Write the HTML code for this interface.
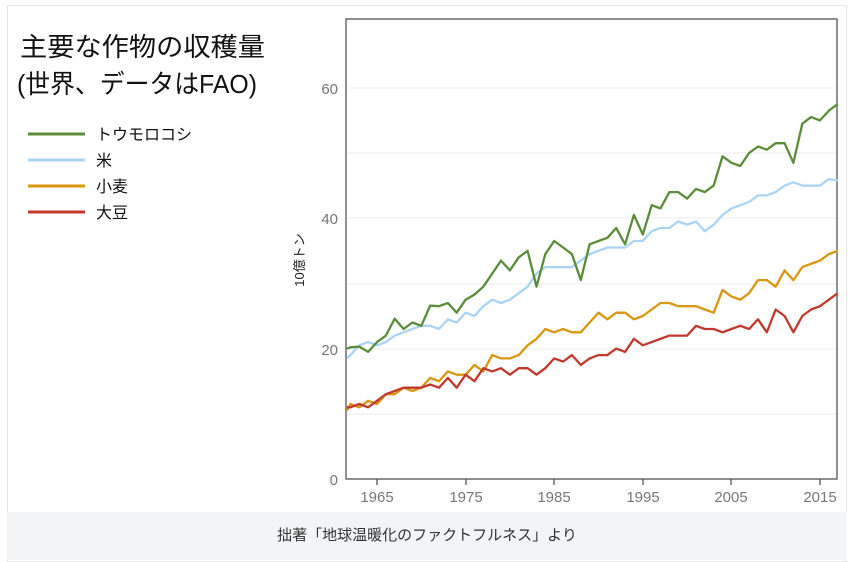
<!DOCTYPE html>
<html><head><meta charset="utf-8"><style>
body{margin:0;background:#fff;width:850px;height:560px;overflow:hidden;font-family:"Liberation Sans","Noto Sans CJK JP",sans-serif;}
.card{position:absolute;left:7px;top:5px;width:838px;height:555px;border:1px solid #e6e6e6;background:#fff;}
.cap{position:absolute;left:7px;top:512px;width:840px;height:48px;background:#f3f4f6;font-size:15px;color:#333;text-align:center;line-height:48px;}
</style></head><body>
<div class="card"></div>
<svg width="850" height="560" style="position:absolute;left:0;top:0" font-family="Liberation Sans,Noto Sans CJK JP,sans-serif">
<text x="20" y="56" font-size="26" fill="#111" textLength="245" lengthAdjust="spacingAndGlyphs">主要な作物の収穫量</text>
<text x="17" y="93" font-size="26" fill="#111" textLength="240" lengthAdjust="spacingAndGlyphs">(世界、データはFAO)</text>
<g stroke-width="3">
<line x1="28" y1="134" x2="85" y2="134" stroke="#5b8c3a"/>
<line x1="28" y1="160" x2="85" y2="160" stroke="#a8d4f5"/>
<line x1="28" y1="186" x2="85" y2="186" stroke="#d9960f"/>
<line x1="28" y1="212" x2="85" y2="212" stroke="#c0392b"/>
</g>
<g font-size="16" fill="#111">
<text x="96" y="140">トウモロコシ</text><text x="96" y="166">米</text><text x="96" y="192">小麦</text><text x="96" y="218">大豆</text>
</g>
<g stroke="#ececec" stroke-width="1">
<line x1="347" x2="837" y1="88" y2="88"/><line x1="347" x2="837" y1="153" y2="153"/>
<line x1="347" x2="837" y1="218" y2="218"/><line x1="347" x2="837" y1="284" y2="284"/>
<line x1="347" x2="837" y1="349" y2="349"/><line x1="347" x2="837" y1="414" y2="414"/>
</g>
<rect x="346" y="19" width="491" height="460" fill="none" stroke="#555" stroke-width="1.3"/>
<g font-size="15" fill="#777" text-anchor="end">
<text x="338" y="94">60</text><text x="338" y="224">40</text><text x="338" y="355">20</text><text x="338" y="485">0</text>
</g>
<g stroke="#555" stroke-width="1.3" id="ticks"></g>
<g font-size="15" fill="#777" text-anchor="middle">
<text x="377" y="502">1965</text><text x="466" y="502">1975</text><text x="554" y="502">1985</text><text x="643" y="502">1995</text><text x="731" y="502">2005</text><text x="820" y="502">2015</text>
</g>
<text transform="translate(304,260) rotate(-90)" font-size="13" fill="#222" text-anchor="middle">10億トン</text>
<g id="lines" fill="none" stroke-width="2.3" stroke-linejoin="round"></g>
</svg>
<div class="cap">拙著「地球温暖化のファクトフルネス」より</div>
<script>
var D={
"#a8d4f5":[18.5,19,20.5,21,20.5,21,22,22.5,23,23.5,23.5,23,24.5,24,25.5,25,26.5,27.5,27,27.5,28.5,29.5,31.5,32.5,32.5,32.5,32.5,33.5,34.5,35,35.5,35.5,35.5,36.5,36.5,38,38.5,38.5,39.5,39,39.5,38,39,40.5,41.5,42,42.5,43.5,43.5,44,45,45.5,45,45,45,46,45.8],
"#5b8c3a":[20,20.2,20.3,19.5,21,22,24.6,23,24,23.5,26.6,26.5,27,25.5,27.5,28.3,29.5,31.5,33.5,32,34,35,29.5,34.5,36.5,35.5,34.5,30.5,36,36.5,37,38.5,36,40.5,37.5,42,41.5,44,44,43,44.5,44,45,49.5,48.5,48,50,51,50.5,51.5,51.5,48.5,54.5,55.5,55,56.5,57.5],
"#d9960f":[10.5,11.5,11,12,11.5,13,13,14,13.5,14,15.5,15,16.5,16,16,17.5,16.5,19,18.5,18.5,19,20.5,21.5,23,22.5,23,22.5,22.5,24,25.5,24.5,25.5,25.5,24.5,25,26,27,27,26.5,26.5,26.5,26,25.5,29,28,27.5,28.5,30.5,30.5,29.5,32,30.5,32.5,33,33.5,34.5,35],
"#c0392b":[11,11,11.5,11,12,13,13.5,14,14,14,14.5,14,15.5,14,16,15,17,16.5,17,16,17,17,16,17,18.5,18,19,17.5,18.5,19,19,20,19.5,21.5,20.5,21,21.5,22,22,22,23.5,23,23,22.5,23,23.5,23,24.5,22.5,26,25,22.5,25,26,26.5,27.5,28.5]};
var g=document.getElementById("lines"),s="";
for(var c in D){var p=D[c].map(function(v,i){var x=377+(1961+i-1965)*8.86;if(x<347)x=347;return x.toFixed(1)+","+(479-v*6.52).toFixed(1)}).join(" ");
s+='<polyline stroke="'+c+'" points="'+p+'"/>';}
g.innerHTML=s;
var t="";[377,466,554,643,731,820].forEach(function(x){t+='<line x1="'+x+'" x2="'+x+'" y1="479" y2="485"/>'});
document.getElementById("ticks").innerHTML=t;
</script>
</body></html>
